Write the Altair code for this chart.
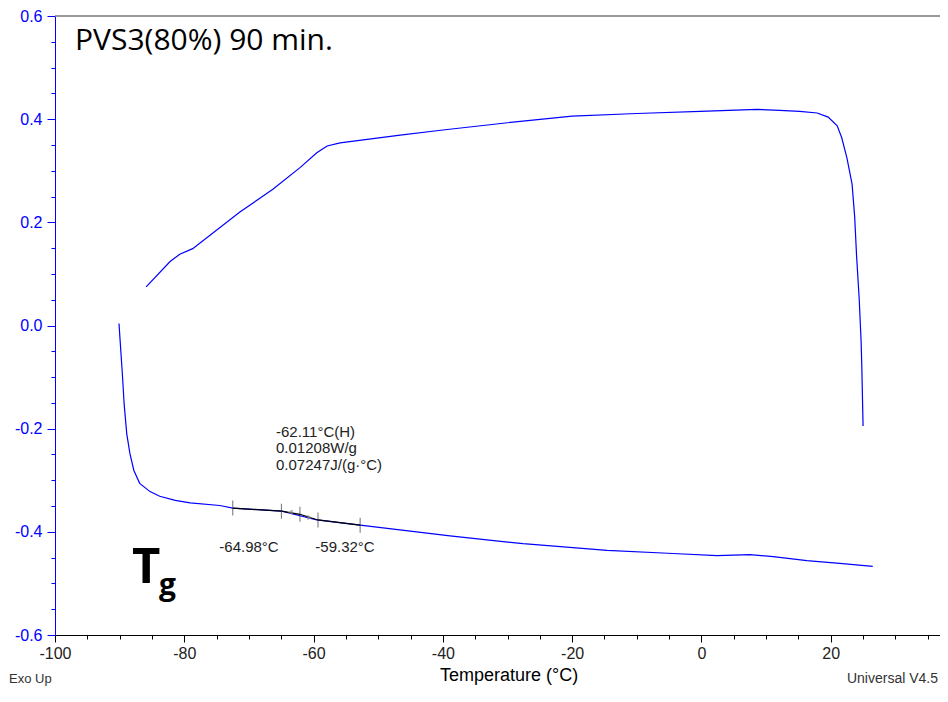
import altair as alt
import pandas as pd

# ---- data ----
lower_T = [-90.1, -89.95, -89.6, -89.3, -88.9, -88.4, -87.8, -86.9, -85.3, -83.8, -81.4, -79.1,
           -74.5, -72.5, -64.9, -59.5, -52.8, -38.9, -27.6, -14.6, -4.4, 2.4, 7.5, 11.1, 16.3, 21.4, 26.5]
lower_Q = [0.004, -0.025, -0.09, -0.153, -0.21, -0.249, -0.281, -0.306, -0.322, -0.331, -0.339, -0.344,
           -0.349, -0.354, -0.360, -0.377, -0.387, -0.408, -0.423, -0.436, -0.442, -0.446, -0.444, -0.448,
           -0.456, -0.461, -0.467]

upper_T = [25.0, 24.8, 24.7, 24.4, 24.0, 23.7, 23.3, 22.5, 21.7, 21.0, 19.6, 17.9, 15.2, 12.1, 8.6,
           -0.2, -10, -20, -30, -40, -46.6, -55.9, -57.9, -59.5, -62.1, -66.3, -71.4, -78.7, -80.7,
           -82.2, -85.9]
upper_Q = [-0.195, -0.077, -0.032, 0.052, 0.134, 0.211, 0.274, 0.325, 0.364, 0.387, 0.404, 0.412,
           0.415, 0.417, 0.419, 0.415, 0.411, 0.406, 0.393, 0.379, 0.369, 0.354, 0.348, 0.335, 0.306,
           0.264, 0.220, 0.149, 0.138, 0.124, 0.075]

tg_T = [-72.5, -64.98, -62.11, -59.32, -52.8]
tg_Q = [-0.354, -0.360, -0.366, -0.377, -0.387]

x_ticks = list(range(-100, 40, 5))
y_ticks = [round(-0.6 + 0.05 * i, 2) for i in range(25)]

title_text = "PVS3(80%) 90 min."
tg_block = ["-62.11°C(H)", "0.01208W/g", "0.07247J/(g·°C)"]
onset_label = "-64.98°C"
end_label = "-59.32°C"
x_title = "Temperature (°C)"
left_footer = "Exo Up"
right_footer = "Universal V4.5"

# ---- tables ----
rows = []
for i, (t, q) in enumerate(zip(lower_T, lower_Q)):
    rows.append({"T": t, "Q": q, "seg": "heat", "o": i})
for i, (t, q) in enumerate(zip(upper_T, upper_Q)):
    rows.append({"T": t, "Q": q, "seg": "cool", "o": i})
curve = pd.DataFrame(rows)
tg = pd.DataFrame({"T": tg_T, "Q": tg_Q})

W, H = 885, 619
FONT = "Liberation Sans"
BLUE = "#0000ff"

x_enc = alt.X("T:Q", scale=alt.Scale(domain=[-100, 36.9], nice=False, zero=False),
              axis=alt.Axis(values=x_ticks, title=None, grid=False,
                            labelExpr="datum.value % 20 === 0 ? (datum.value < 0 ? '-' : '') + format(abs(datum.value), 'd') : ''",
                            tickSize={"condition": {"test": "datum.value % 20 === 0", "value": 7}, "value": 4},
                            domainColor="black", tickColor="black", labelColor="#222",
                            labelFont=FONT, labelFontSize=16, labelPadding=3,
                            labelOverlap=False, labelFlush=False))
major_y = "abs(datum.value*5 - round(datum.value*5)) < 0.0001"
y_enc = alt.Y("Q:Q", scale=alt.Scale(domain=[-0.6, 0.6], nice=False, zero=False),
              axis=alt.Axis(values=y_ticks, title=None, grid=False,
                            labelExpr=f"{major_y} ? (datum.value < -0.001 ? '-' : '') + format(abs(datum.value), '.1f') : ''",
                            tickSize={"condition": {"test": major_y, "value": 8}, "value": 4},
                            domainColor=BLUE, tickColor=BLUE, labelColor=BLUE,
                            labelFont=FONT, labelFontSize=16, labelPadding=5,
                            labelOverlap=False, labelFlush=False))

lines = alt.Chart(curve).mark_line(color=BLUE, strokeWidth=1.2).encode(
    x=x_enc, y=y_enc, detail="seg:N", order="o:Q")

tangent = alt.Chart(tg).mark_line(color="black", strokeWidth=1.2).encode(x=x_enc, y=y_enc)
tg_ticks = alt.Chart(tg).mark_tick(orient="vertical", size=15, thickness=1, color="#333").encode(
    x=x_enc, y=y_enc)

arrows = alt.Chart(pd.DataFrame({"T": [-63.6, -60.6], "Q": [-0.362, -0.372],
                                 "s": ["triangle-left", "triangle-right"]})).mark_point(
    filled=True, color="#888", size=30).encode(x=x_enc, y=y_enc,
                                                shape=alt.Shape("s:N", scale=None))


def txt(s, x, y, size=15, color="#222", align="left", baseline="middle", weight="normal", font=FONT):
    return alt.Chart(pd.DataFrame({"t": [s]})).mark_text(
        align=align, baseline=baseline, fontSize=size, color=color, fontWeight=weight, font=font
    ).encode(text="t:N", x=alt.value(x), y=alt.value(y))


frame = alt.Chart(pd.DataFrame({"a": [0]})).mark_rule(color="#777", strokeWidth=1.5).encode(
    x=alt.value(0), x2=alt.value(W), y=alt.value(0))

texts = [
    txt(title_text, 20, 34, size=30, color="black", baseline="alphabetic", font="Open Sans"),
    txt("T", 77, 567, size=49, color="black", baseline="alphabetic", weight="bold", font="Open Sans"),
    txt("g", 104, 579, size=30, color="black", baseline="alphabetic", weight="bold", font="Open Sans"),
    txt(tg_block[0], 221, 416),
    txt(tg_block[1], 221, 432),
    txt(tg_block[2], 221, 449),
    txt(onset_label, 194, 531, align="center"),
    txt(end_label, 290, 531, align="center"),
    txt(x_title, 454, 660, size=18, color="black", align="center"),
    txt(left_footer, -46, 663, size=13, color="#333", align="left"),
    txt(right_footer, 883, 663, size=14, color="#333", align="right"),
]

chart = alt.layer(lines, tangent, tg_ticks, arrows, frame, *texts).properties(
    width=W, height=H,
    padding={"left": 47, "top": 8, "right": 0, "bottom": 53},
    autosize=alt.AutoSizeParams(type="none"),
).configure_view(stroke=None)

chart.save("out.html", embed_options={"renderer": "svg", "actions": False})
